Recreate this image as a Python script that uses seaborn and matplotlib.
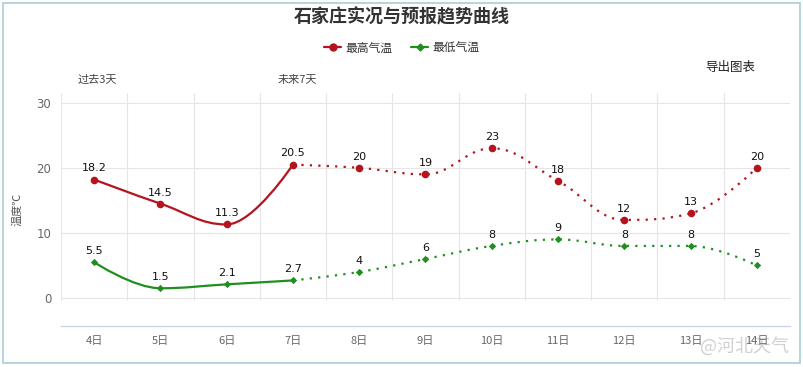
import matplotlib
matplotlib.use("Agg")
import matplotlib.pyplot as plt
from matplotlib.path import Path
from matplotlib.patches import PathPatch, Rectangle
from matplotlib.lines import Line2D
import numpy as np
import pandas as pd
import seaborn as sns

sns.set_theme(style="white")
plt.rcParams['font.family'] = ['Noto Sans CJK SC', 'DejaVu Sans']

days = ["4日", "5日", "6日", "7日", "8日", "9日", "10日", "11日", "12日", "13日", "14日"]
high = [18.2, 14.5, 11.3, 20.5, 20, 19, 23, 18, 12, 13, 20]
low = [5.5, 1.5, 2.1, 2.7, 4, 6, 8, 9, 8, 8, 5]
high_labels = ["18.2", "14.5", "11.3", "20.5", "20", "19", "23", "18", "12", "13", "20"]
low_labels = ["5.5", "1.5", "2.1", "2.7", "4", "6", "8", "9", "8", "8", "5"]
past_end = 3  # 4日-7日 实况, 7日之后预报

red = "#b3141e"
green = "#1f8f1f"
grid_col = "#e6e6e6"
axis_col = "#ccd6eb"


def spline_path(xs, ys, smoothing=1.5):
    # highcharts style spline control points
    n = len(xs)
    denom = smoothing + 1
    left = [None] * n
    right = [None] * n
    for i in range(1, n - 1):
        px, py = xs[i], ys[i]
        lx, ly = xs[i - 1], ys[i - 1]
        nx, ny = xs[i + 1], ys[i + 1]
        lcx = (smoothing * px + lx) / denom
        lcy = (smoothing * py + ly) / denom
        rcx = (smoothing * px + nx) / denom
        rcy = (smoothing * py + ny) / denom
        corr = (rcy - lcy) * (rcx - px) / (rcx - lcx) + py - rcy
        lcy += corr
        rcy += corr
        if lcy > ly and lcy > py:
            lcy = max(ly, py)
            rcy = 2 * py - lcy
        elif lcy < ly and lcy < py:
            lcy = min(ly, py)
            rcy = 2 * py - lcy
        if rcy > ny and rcy > py:
            rcy = max(ny, py)
            lcy = 2 * py - rcy
        elif rcy < ny and rcy < py:
            rcy = min(ny, py)
            lcy = 2 * py - rcy
        left[i] = (lcx, lcy)
        right[i] = (rcx, rcy)
    verts = [(xs[0], ys[0])]
    codes = [Path.MOVETO]
    for i in range(1, n):
        c1 = right[i - 1] or (xs[i - 1], ys[i - 1])
        c2 = left[i] or (xs[i], ys[i])
        verts += [c1, c2, (xs[i], ys[i])]
        codes += [Path.CURVE4] * 3
    return Path(verts, codes)


fig = plt.figure(figsize=(8.04, 3.67), dpi=100)
ax = fig.add_axes([61 / 804, 41 / 367, 729 / 804, 233 / 367])

x = np.arange(len(days))
ylo, yhi = -4.3, 31.5

# grid
for v in [0, 10, 20, 30]:
    ax.axhline(v, color=grid_col, lw=0.8, zorder=0)
gfrac = (-0.3 - ylo) / (yhi - ylo)
for b in np.arange(-0.5, len(days), 1):
    ax.axvline(b, ymin=gfrac, ymax=1, color=grid_col, lw=0.8, zorder=0)

# lines
for vals, col in [(high, red), (low, green)]:
    p1 = spline_path(list(x[:past_end + 1]), vals[:past_end + 1])
    ax.add_patch(PathPatch(p1, fill=False, edgecolor=col, lw=1.6, zorder=2, capstyle='round'))
    p2 = spline_path(list(x[past_end:]), vals[past_end:])
    ax.add_patch(PathPatch(p2, fill=False, edgecolor=col, lw=1.6, linestyle=(0, (1, 2.8)), zorder=2))

df = pd.DataFrame({"x": np.concatenate([x, x]),
                   "t": high + low,
                   "kind": ["最高气温"] * len(x) + ["最低气温"] * len(x)})
sns.scatterplot(data=df[df.kind == "最高气温"], x="x", y="t", color=red, marker="o",
                s=30, edgecolor=red, linewidth=0, ax=ax, zorder=3, legend=False)
sns.scatterplot(data=df[df.kind == "最低气温"], x="x", y="t", color=green, marker="D",
                s=14, edgecolor=green, linewidth=0, ax=ax, zorder=3, legend=False)

for xi, v, lab in zip(x, high, high_labels):
    ax.annotate(lab, (xi, v), xytext=(0, 8), textcoords="offset points",
                ha="center", va="center", fontsize=8, color="#111111", family=['DejaVu Sans'])
for xi, v, lab in zip(x, low, low_labels):
    ax.annotate(lab, (xi, v), xytext=(0, 8), textcoords="offset points",
                ha="center", va="center", fontsize=8, color="#111111", family=['DejaVu Sans'])

ax.set_xlim(-0.5, len(days) - 0.5)
ax.set_ylim(ylo, yhi)
ax.set_xticks(x)
ax.set_xticklabels(days)
ax.set_xticks(np.arange(-0.5, len(days), 1), minor=True)
ax.set_yticks([0, 10, 20, 30])
ax.set_yticklabels(["0", "10", "20", "30"], family=['DejaVu Sans'])
ax.tick_params(axis='x', which='major', length=0, pad=7, labelsize=8, labelcolor="#666666")
ax.tick_params(axis='x', which='minor', direction='in', length=4.5, width=0.8, color=axis_col)
ax.tick_params(axis='y', length=0, pad=7, labelsize=8.5, labelcolor="#666666")
ax.set_xlabel("")
ax.set_ylabel("温度℃", fontsize=8, color="#555555", labelpad=10)
for s in ["top", "right", "left"]:
    ax.spines[s].set_visible(False)
ax.spines["bottom"].set_color(axis_col)
ax.spines["bottom"].set_linewidth(1)
ax.patch.set_alpha(0)

# texts
fig.text(0.5, 1 - 17 / 367, "石家庄实况与预报趋势曲线", ha="center", va="center",
         fontsize=13, fontweight="bold", color="#333333")
handles = [Line2D([], [], color=red, lw=1.6, marker="o", markersize=5),
           Line2D([], [], color=green, lw=1.6, marker="D", markersize=3.5)]
fig.legend(handles, ["最高气温", "最低气温"], loc="center", bbox_to_anchor=(0.5, 1 - 48 / 367),
           ncol=2, frameon=False, fontsize=8.5, handlelength=1.4, handletextpad=0.4,
           columnspacing=1.6, labelcolor="#333333")
fig.text(97 / 804, 1 - 80 / 367, "过去3天", ha="center", va="center", fontsize=8, color="#444444")
fig.text(297 / 804, 1 - 80 / 367, "未来7天", ha="center", va="center", fontsize=8, color="#444444")
fig.text(730 / 804, 1 - 67 / 367, "导出图表", ha="center", va="center", fontsize=9, color="#222222")
fig.text(745 / 804, 1 - 346 / 367, "@河北天气", ha="center", va="center", fontsize=13,
         color="#999999", alpha=0.45)

fig.patches.append(Rectangle((3 / 804, 4 / 367), 797 / 804, 360 / 367, transform=fig.transFigure,
                             fill=False, edgecolor="#a9cdd9", lw=1.2))

fig.savefig("out.png", dpi=100)
